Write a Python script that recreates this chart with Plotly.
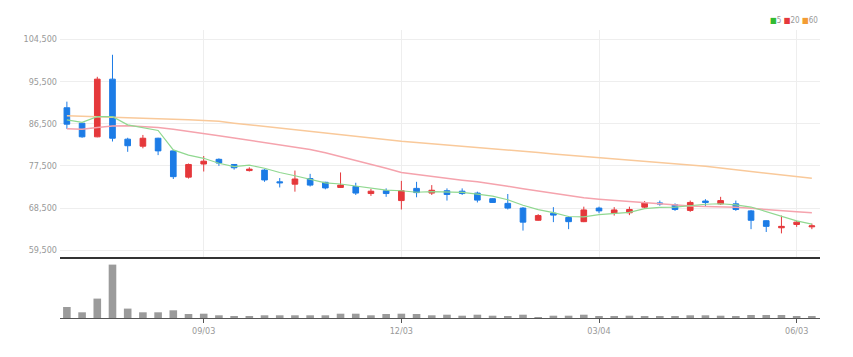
import pandas as pd
import plotly.graph_objects as go
from plotly.subplots import make_subplots

# Weekly candles (2018-07-02 .. 2019-06-10)
dates = pd.date_range("2018-07-02", periods=50, freq="7D").strftime("%Y-%m-%d").tolist()

opens = [89900, 86600, 83700, 96000, 83200, 81700, 83400, 80700, 75100, 77900,
         78900, 77800, 76500, 76600, 74100, 73600, 74800, 74000, 72900, 73100,
         71600, 72200, 70100, 72700, 71700, 72200, 72100, 71700, 70500, 69500,
         68500, 65900, 67400, 66500, 65600, 68500, 67400, 67500, 68700, 69600,
         69200, 68000, 70000, 69400, 69400, 67900, 65800, 64300, 65000, 64500]
highs = [91200, 86700, 96500, 101200, 83500, 84100, 83500, 80900, 78000, 79600,
         79100, 77900, 77200, 76800, 74900, 76500, 75800, 74100, 76100, 73900,
         72600, 72700, 74300, 74100, 73400, 72700, 72700, 72000, 70600, 71500,
         68700, 67200, 68700, 66800, 68800, 68800, 68700, 68800, 70000, 70100,
         69500, 70100, 70400, 70900, 70100, 68100, 65900, 66900, 65800, 65200]
lows = [85400, 83500, 83600, 82700, 80500, 81250, 79800, 74700, 74800, 76300,
        77500, 76700, 76300, 74100, 72900, 72000, 73100, 72500, 72800, 71300,
        71100, 70900, 68200, 70800, 71300, 70100, 71300, 69700, 69600, 68200,
        63700, 65800, 65500, 64000, 65500, 67400, 66900, 67000, 68400, 69000,
        67900, 67700, 68800, 69200, 67900, 64000, 63400, 63100, 64500, 64000]
closes = [86400, 83700, 96000, 83400, 81800, 83400, 80700, 75200, 77800, 78500,
          78100, 77100, 76800, 74500, 73900, 74700, 73400, 72800, 73400, 71700,
          72100, 71600, 72200, 71800, 72300, 71400, 71600, 70200, 69700, 68500,
          65500, 66900, 67000, 65600, 68100, 67900, 68100, 68200, 69600, 69400,
          68200, 69700, 69700, 70100, 68200, 65900, 64600, 64600, 65500, 64700]

ma5 = [87300, 86800, 88000, 88000, 86260, 85660, 85060, 80900, 79780, 79120,
       78060, 77340, 77660, 77000, 76080, 75400, 74660, 73860, 73640, 73200,
       72680, 72320, 72200, 71880, 72000, 71860, 71860, 71460, 71040, 70280,
       69100, 68160, 67520, 66700, 66620, 67100, 67340, 67580, 68380, 68640,
       68700, 69020, 69320, 69420, 69180, 68720, 67700, 66680, 65760, 65060]
ma20 = [85400, 85300, 85700, 86000, 86050, 85900, 85700, 85300, 84900, 84450,
        83950, 83450, 82950, 82450, 81950, 81500, 81000, 80300, 79500, 78600,
        77900, 77000, 76100, 75650, 75200, 74800, 74450, 74100, 73700, 73150,
        72600, 72150, 71700, 71100, 70700, 70400, 70150, 69900, 69650, 69400,
        69150, 68950, 68850, 68800, 68650, 68450, 68150, 67900, 67700, 67500]
ma60 = [88200, 88100, 88050, 88000, 87900, 87800, 87650, 87500, 87350, 87200,
        87000, 86600, 86250, 85850, 85500, 85100, 84800, 84450, 84100, 83750,
        83400, 83050, 82750, 82500, 82250, 81950, 81700, 81450, 81200, 80900,
        80600, 80350, 80050, 79800, 79500, 79250, 79000, 78750, 78500, 78200,
        77950, 77700, 77400, 77050, 76700, 76350, 76000, 75650, 75250, 74850]
volumes = [1100000, 570000, 1940000, 5340000, 940000, 570000, 570000, 770000, 400000, 430000,
           270000, 200000, 100000, 270000, 270000, 270000, 270000, 270000, 430000, 430000,
           270000, 400000, 430000, 400000, 270000, 330000, 230000, 330000, 230000, 200000,
           330000, 60000, 230000, 230000, 330000, 130000, 170000, 230000, 170000, 170000,
           170000, 270000, 270000, 230000, 170000, 300000, 300000, 300000, 170000, 170000]

price_ticks = [59500, 68500, 77500, 86500, 95500, 104500]
x_tick_dates = ["2018-09-03", "2018-12-03", "2019-03-04", "2019-06-03"]
x_tick_text = ["09/03", "12/03", "03/04", "06/03"]

UP = "#e5383b"
DOWN = "#1c7ce6"
FONT = "DejaVu Sans Condensed, Liberation Sans Narrow, Roboto, sans-serif"

fig = make_subplots(rows=2, cols=1, shared_xaxes=True, vertical_spacing=0.0)

fig.add_trace(go.Candlestick(
    x=dates, open=opens, high=highs, low=lows, close=closes,
    increasing=dict(line=dict(color=UP, width=1), fillcolor=UP),
    decreasing=dict(line=dict(color=DOWN, width=1), fillcolor=DOWN),
    showlegend=False, hoverinfo="skip"), row=1, col=1)

fig.add_trace(go.Scatter(x=dates, y=ma60, mode="lines",
                         line=dict(color="#f9c99a", width=1.5), showlegend=False), row=1, col=1)
fig.add_trace(go.Scatter(x=dates, y=ma20, mode="lines",
                         line=dict(color="#f5a3ad", width=1.5), showlegend=False), row=1, col=1)
fig.add_trace(go.Scatter(x=dates, y=ma5, mode="lines",
                         line=dict(color="#90d890", width=1.2), showlegend=False), row=1, col=1)

fig.add_trace(go.Bar(x=dates, y=volumes, marker=dict(color="#9b9b9b", line=dict(width=0)),
                     width=7 * 86400000 * 0.5, showlegend=False), row=2, col=1)

x_range = ["2018-06-28 20:00", "2019-06-13 18:00"]

fig.update_layout(
    width=853, height=357,
    margin=dict(l=52, r=41, t=22, b=47),
    paper_bgcolor="white", plot_bgcolor="white",
    font=dict(family=FONT, size=10, color="#999999"),
    boxgap=0.47,
    xaxis=dict(domain=[0, 1], range=x_range, type="date", rangeslider=dict(visible=False),
               showgrid=True, gridcolor="#eeeeee", tickvals=x_tick_dates, ticktext=x_tick_text,
               showticklabels=False, showline=True, linecolor="#333333", linewidth=2,
               zeroline=False, automargin=False),
    yaxis=dict(domain=[0.2118, 1], range=[58064, 106484], tickvals=price_ticks,
               tickformat=",", showgrid=True, gridcolor="#eeeeee", zeroline=False,
               ticks="", ticklabelstandoff=2, automargin=False,
               tickfont=dict(family=FONT, size=9, color="#999999")),
    xaxis2=dict(range=x_range, type="date", tickvals=x_tick_dates, ticktext=x_tick_text,
                showgrid=False, showline=True, linecolor="#555555", linewidth=1,
                ticks="outside", ticklen=4, tickcolor="#555555", automargin=False,
                tickfont=dict(family=FONT, size=9, color="#999999"), zeroline=False),
    yaxis2=dict(domain=[0, 0.2083], range=[0, 6000000], showgrid=False,
                showticklabels=False, zeroline=False, automargin=False),
    bargap=0.5,
)

fig.add_annotation(xref="paper", yref="paper", x=1.0, y=1.0, xanchor="right", yanchor="bottom",
                   yshift=3, showarrow=False,
                   text="<span style='color:#33bb33'>■</span>5 "
                        "<span style='color:#e5383b'>■</span>20 "
                        "<span style='color:#f39c33'>■</span>60",
                   font=dict(family=FONT, size=8, color="#999999"))

fig.write_html("out.html")
